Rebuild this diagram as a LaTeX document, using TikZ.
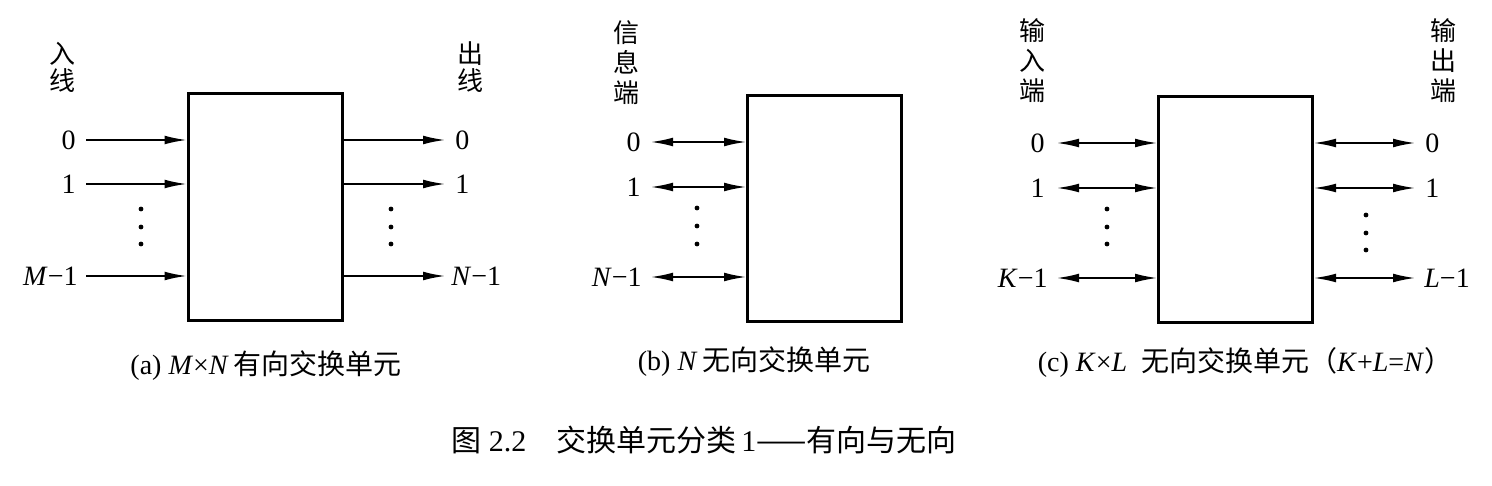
\documentclass[tikz,border=0pt]{standalone}
\usepackage{fontspec}
\setmainfont{Liberation Serif}
\newfontfamily\cjk{Noto Sans CJK SC}
\usetikzlibrary{arrows.meta}
\begin{document}
\begin{tikzpicture}[x=0.5pt,y=-0.5pt,
  swbox/.style={draw, line width=1.5pt, inner sep=0pt, minimum width=77pt, minimum height=113pt},
  ln/.style={line width=0.8pt},
  onearr/.style={ln,-{Latex[length=11pt,width=4.4pt]}},
  biarr/.style={ln,{Latex[length=11pt,width=4.4pt]}-{Latex[length=11pt,width=4.4pt]}},
  numlab/.style={font=\fontsize{14}{14}\selectfont, inner sep=0pt},
  vlab/.style={font=\cjk\fontsize{13}{15}\selectfont, align=center, inner sep=0pt},
  captxt/.style={font=\fontsize{14}{14}\selectfont, inner sep=0pt},
  pdot/.style={circle, fill, inner sep=0pt, minimum size=2.4pt}
]
\path[use as bounding box] (0,0) rectangle (1492,486);

% ---------- (a) ----------
\node[swbox] (A) at (265,207) {};
\node[numlab, anchor=east] (a0) at (76,140) {0};
\node[numlab, anchor=east] (a1) at (76,184) {1};
\node[numlab, anchor=east] (am) at (78,276) {\textit{M}−1};
\coordinate (a0s) at (86,140);
\coordinate (a1s) at (86,184);
\coordinate (ams) at (86,276);
\draw[onearr] (a0s) -- (a0s -| A.west);
\draw[onearr] (a1s) -- (a1s -| A.west);
\draw[onearr] (ams) -- (ams -| A.west);
\node[pdot] (ad1) at (141,209) {};
\node[pdot] (ad2) at (141,227) {};
\node[pdot] (ad3) at (141,244) {};
\node[numlab, anchor=west] (b0) at (455,140) {0};
\node[numlab, anchor=west] (b1) at (455,184) {1};
\node[numlab, anchor=west] (bn) at (451,276) {\textit{N}−1};
\coordinate (b0e) at (445,140);
\coordinate (b1e) at (445,184);
\coordinate (bne) at (445,276);
\draw[onearr] (b0e -| A.east) -- (b0e);
\draw[onearr] (b1e -| A.east) -- (b1e);
\draw[onearr] (bne -| A.east) -- (bne);
\node[pdot] (bd1) at (391,209) {};
\node[pdot] (bd2) at (391,227) {};
\node[pdot] (bd3) at (391,244) {};
\node[vlab, font=\cjk\fontsize{13}{13.5}\selectfont] (ain) at (62,67) {入\\线};
\node[vlab, font=\cjk\fontsize{13}{13.5}\selectfont] (aout) at (470,67) {出\\线};
\node[captxt] (capa) at (266,366) {(a) \textit{M}×\textit{N}\,{\cjk 有向交换单元}};

% ---------- (b) ----------
\node[swbox] (B) at (824.5,208.5) {};
\node[numlab, anchor=east] (c0) at (641,142) {0};
\node[numlab, anchor=east] (c1) at (641,187) {1};
\node[numlab, anchor=east] (cn) at (642,277) {\textit{N}−1};
\coordinate (c0s) at (651,142);
\coordinate (c1s) at (651,187);
\coordinate (cns) at (651,277);
\draw[biarr] (c0s) -- (c0s -| B.west);
\draw[biarr] (c1s) -- (c1s -| B.west);
\draw[biarr] (cns) -- (cns -| B.west);
\node[pdot] (cd1) at (697,208) {};
\node[pdot] (cd2) at (697,226) {};
\node[pdot] (cd3) at (697,244) {};
\node[vlab] (bin) at (626,63) {信\\息\\端};
\node[captxt] (capb) at (754,362) {(b) \textit{N}\,{\cjk 无向交换单元}};

% ---------- (c) ----------
\node[swbox] (C) at (1235.5,209.5) {};
\node[numlab, anchor=east] (d0) at (1045,143) {0};
\node[numlab, anchor=east] (d1) at (1045,188) {1};
\node[numlab, anchor=east] (dk) at (1048,278) {\textit{K}−1};
\coordinate (d0s) at (1057,143);
\coordinate (d1s) at (1057,188);
\coordinate (dks) at (1057,278);
\draw[biarr] (d0s) -- (d0s -| C.west);
\draw[biarr] (d1s) -- (d1s -| C.west);
\draw[biarr] (dks) -- (dks -| C.west);
\node[pdot] (dd1) at (1107,209) {};
\node[pdot] (dd2) at (1107,227) {};
\node[pdot] (dd3) at (1107,244) {};
\node[numlab, anchor=west] (e0) at (1425,143) {0};
\node[numlab, anchor=west] (e1) at (1425,188) {1};
\node[numlab, anchor=west] (el) at (1424,278) {\textit{L}−1};
\coordinate (e0e) at (1415,143);
\coordinate (e1e) at (1415,188);
\coordinate (ele) at (1415,278);
\draw[biarr] (e0e -| C.east) -- (e0e);
\draw[biarr] (e1e -| C.east) -- (e1e);
\draw[biarr] (ele -| C.east) -- (ele);
\node[pdot] (ed1) at (1366,215) {};
\node[pdot] (ed2) at (1366,233) {};
\node[pdot] (ed3) at (1366,250) {};
\node[vlab] (cin) at (1032,61) {输\\入\\端};
\node[vlab] (cout) at (1443,61) {输\\出\\端};
\node[captxt] (capc) at (1245,362) {(c) \textit{K}×\textit{L}\ \ {\cjk 无向交换单元（}\textit{K}+\textit{L}=\textit{N}{\cjk ）}};

% ---------- title ----------
\node[font=\fontsize{15}{15}\selectfont, inner sep=0pt] (title) at (704,440)
  {{\cjk 图}\ 2.2\quad {\cjk 交换单元分类}\,1{\cjk ——有向与无向}};
\end{tikzpicture}
\end{document}
